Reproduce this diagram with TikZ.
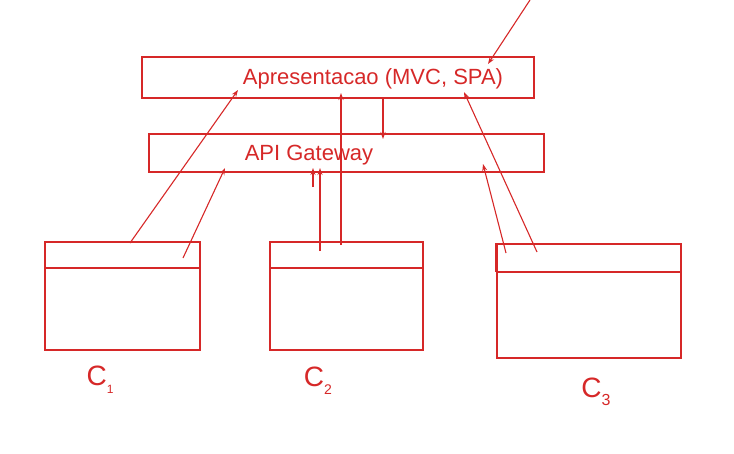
\documentclass[tikz,border=0pt]{standalone}
\usepackage{fontspec}
\setmainfont{Liberation Sans}
\usetikzlibrary{arrows.meta}
\definecolor{ink}{RGB}{214,40,40}
\begin{document}
\begin{tikzpicture}[x=1pt,y=-1pt,
  box/.style={draw=ink, line width=1.1pt, rectangle, inner sep=0pt},
  lbl/.style={text=ink, font=\fontsize{22}{24}\selectfont, inner sep=0pt},
  hand/.style={text=ink, font=\fontsize{28}{30}\selectfont, inner sep=0pt},
  conn/.style={draw=ink, line width=1.1pt, -{Stealth[length=7pt,width=5pt]}},
  plain/.style={draw=ink, line width=1.1pt}]
\useasboundingbox (0,0) rectangle (734,453);
% boxes
\node[box, minimum width=392pt, minimum height=41pt] (pres) at (338,77.5) {};
\node[box, minimum width=395pt, minimum height=38pt] (gw) at (346.5,153) {};
\node[lbl] (prestxt) at (373,79) {Apresentacao (MVC, SPA)};
\node[lbl] (gwtxt) at (309,155) {API Gateway};
% components
\node[box, minimum width=155pt, minimum height=108pt] (c1) at (122.5,296) {};
\node[box, minimum width=153pt, minimum height=108pt] (c2) at (346.5,296) {};
\node[box, minimum width=184pt, minimum height=114pt] (c3) at (589,301) {};
\draw[plain] (c1.west |- 0,268) coordinate (c1l) -- (c1.east |- 0,268) coordinate (c1r);
\draw[plain] (c2.west |- 0,268) coordinate (c2l) -- (c2.east |- 0,268) coordinate (c2r);
\draw[plain] (c3.west |- 0,272) coordinate (c3l) -- (c3.east |- 0,272) coordinate (c3r);
\draw[draw=ink, line width=2pt] (c3.north west) -- (c3l);
% labels
\node[hand] (l1) at (100,380) {C\raisebox{-0.3em}{\fontsize{12}{12}\selectfont 1}};
\node[hand] (l2) at (318,381) {C\raisebox{-0.3em}{\fontsize{14}{14}\selectfont 2}};
\node[hand] (l3) at (596,392) {C\raisebox{-0.3em}{\fontsize{16}{16}\selectfont 3}};
% connectors
\coordinate (ext) at (530,0);
\coordinate (a1) at (488,64);
\draw[conn] (ext) -- (a1);
\coordinate (s1) at (130,243);
\coordinate (t1) at (238,90);
\draw[conn] (s1) -- (t1);
\coordinate (s2) at (183,258);
\coordinate (t2) at (225,168);
\draw[conn] (s2) -- (t2);
\coordinate (s3) at (320,251);
\coordinate (t3) at (320,168);
\draw[conn] (s3) -- (t3);
\coordinate (s4) at (313,187);
\coordinate (t4) at (313,168);
\draw[conn] (s4) -- (t4);
\coordinate (s5) at (341,245);
\coordinate (t5) at (341,93);
\draw[conn] (s5) -- (t5);
\coordinate (s6) at (383,97);
\coordinate (t6) at (383,139);
\draw[conn] (s6) -- (t6);
\coordinate (s7) at (537,252);
\coordinate (t7) at (464,92);
\draw[conn] (s7) -- (t7);
\coordinate (s8) at (506,253);
\coordinate (t8) at (483,164);
\draw[conn] (s8) -- (t8);
\end{tikzpicture}
\end{document}
